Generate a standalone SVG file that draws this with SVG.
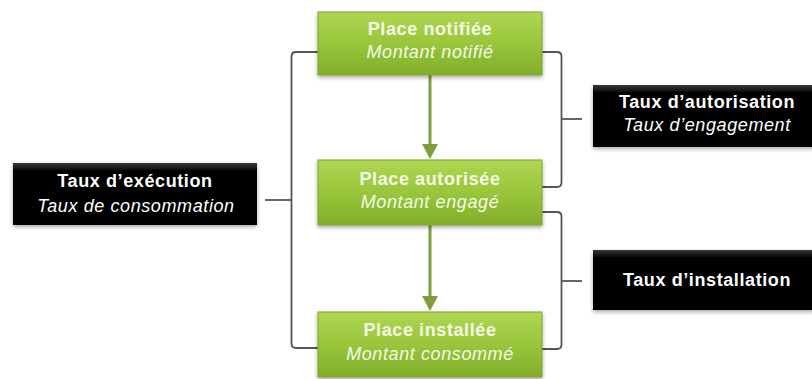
<svg xmlns="http://www.w3.org/2000/svg" width="812" height="379" viewBox="0 0 812 379">
<defs>
<linearGradient id="gGreen" x1="0" y1="0" x2="0" y2="1">
<stop offset="0" stop-color="#b0d652"/>
<stop offset="0.5" stop-color="#99c63c"/>
<stop offset="1" stop-color="#82ad2a"/>
</linearGradient>
<linearGradient id="gBlack" x1="0" y1="0" x2="0" y2="1">
<stop offset="0" stop-color="#3a3a3a"/>
<stop offset="0.12" stop-color="#050505"/>
<stop offset="1" stop-color="#000"/>
</linearGradient>
<filter id="sh" x="-10%" y="-10%" width="120%" height="130%">
<feGaussianBlur in="SourceAlpha" stdDeviation="2"/>
<feOffset dx="0" dy="2" result="b"/>
<feComponentTransfer><feFuncA type="linear" slope="0.35"/></feComponentTransfer>
<feMerge><feMergeNode/><feMergeNode in="SourceGraphic"/></feMerge>
</filter>
</defs>
<style>
.green{fill:url(#gGreen);stroke:#7ea332;stroke-width:1;filter:url(#sh)}
.black{fill:url(#gBlack);filter:url(#sh)}
.t{font-family:"Liberation Sans",Arial,sans-serif;font-size:18px;fill:#fff;text-anchor:middle;letter-spacing:0.6px}
.b{font-weight:bold}
.i{font-style:italic}
.gt{fill:#f4fbe6}
.br{fill:none;stroke:#555;stroke-width:1.8;stroke-linejoin:round}
.ar{stroke:#7f9f3c;stroke-width:3;fill:none}
.ah{fill:#7f9f3c}
</style>
<rect width="812" height="379" fill="#fff"/>
<g id="connectors">
<path class="br" d="M318 52 H296 Q291.5 52 291.5 56.5 V343.5 Q291.5 348 296 348 H318"/>
<path class="br" d="M265 200 H291.5"/>
<path class="br" d="M542 52 H557 Q561.5 52 561.5 56.5 V182.5 Q561.5 187 557 187 H542"/>
<path class="br" d="M561.5 119 H582"/>
<path class="br" d="M542 212 H557 Q561.5 212 561.5 216.5 V344.5 Q561.5 349 557 349 H542"/>
<path class="br" d="M561.5 281 H582"/>
<line class="ar" x1="430" y1="75" x2="430" y2="146"/>
<polygon class="ah" points="422,144 438,144 430,159"/>
<line class="ar" x1="430" y1="225" x2="430" y2="298"/>
<polygon class="ah" points="422,296 438,296 430,311"/>
</g>
<g id="place-notifiee">
<rect class="green" x="318" y="12" width="224" height="63"/>
<text class="t b gt" x="430" y="35">Place notifiée</text>
<text class="t i gt" x="430" y="58">Montant notifié</text>
</g>
<g id="place-autorisee">
<rect class="green" x="318" y="160" width="224" height="65"/>
<text class="t b gt" x="430" y="185">Place autorisée</text>
<text class="t i gt" x="430" y="208">Montant engagé</text>
</g>
<g id="place-installee">
<rect class="green" x="318" y="312" width="224" height="65"/>
<text class="t b gt" x="430" y="336">Place installée</text>
<text class="t i gt" x="430" y="360">Montant consommé</text>
</g>
<g id="taux-execution">
<rect class="black" x="13" y="163" width="244" height="62"/>
<text class="t b" x="135" y="187">Taux d’exécution</text>
<text class="t i" x="136" y="212">Taux de consommation</text>
</g>
<g id="taux-autorisation">
<rect class="black" x="593" y="85" width="222" height="62"/>
<text class="t b" x="707" y="108">Taux d’autorisation</text>
<text class="t i" x="707" y="131">Taux d’engagement</text>
</g>
<g id="taux-installation">
<rect class="black" x="593" y="250" width="222" height="60"/>
<text class="t b" x="707" y="286">Taux d’installation</text>
</g>
</svg>
